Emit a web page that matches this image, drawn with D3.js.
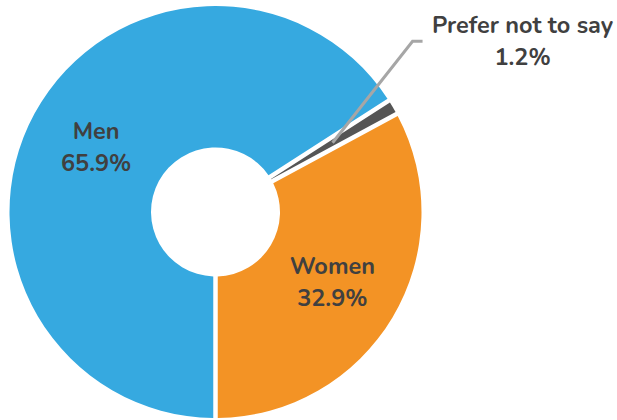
<!DOCTYPE html>
<html><head><meta charset="utf-8">
<script src="https://cdn.jsdelivr.net/npm/d3@7"></script>
<style>html,body{margin:0;padding:0;background:#fff}</style>
</head><body>
<svg id="chart" width="617" height="420"></svg>
<script>
const categories = ["Men", "Prefer not to say", "Women"];
const values = [65.9, 1.2, 32.9];
const labels = ["65.9%", "1.2%", "32.9%"];
const colors = ["#36A9E0", "#555555", "#F39325"];

const svg = d3.select("#chart");
const cx = 215.5, cy = 212, outerR = 206, innerR = 64.5;
const g = svg.append("g").attr("transform", `translate(${cx},${cy})`);

const pie = d3.pie().sort(null).value(d => d.v)
  .startAngle(Math.PI).endAngle(3 * Math.PI);
const data = categories.map((c, i) => ({c, v: values[i], l: labels[i], col: colors[i]}));
const arcs = pie(data);
const arc = d3.arc().innerRadius(innerR).outerRadius(outerR)
  .padAngle(0.045).padRadius(100);
const labelArc = d3.arc().innerRadius(136).outerRadius(136);

g.selectAll("path.slice").data(arcs).enter().append("path")
  .attr("class", "slice").attr("d", arc).attr("fill", d => d.data.col);

const font = "Nunito, Lato, 'Open Sans', sans-serif";
const fs = 23.5;
// inside labels
arcs.forEach((a, i) => {
  if (a.data.v < 5) return;
  const [x, y] = labelArc.centroid(a);
  const t = g.append("text").attr("text-anchor", "middle")
    .attr("font-family", font).attr("font-weight", "bold")
    .attr("font-size", fs).attr("fill", "#404040");
  t.append("tspan").attr("x", x).attr("y", y - 8).text(a.data.c);
  t.append("tspan").attr("x", x).attr("y", y + 24).text(a.data.l);
});

// outside label with leader line
const small = arcs[1];
const [sx, sy] = labelArc.centroid(small);
const ex = sx + 80, ey = sy - 101.5;
g.append("polyline")
  .attr("points", `${sx},${sy} ${ex},${ey} ${ex + 10},${ey}`)
  .attr("fill", "none").attr("stroke", "#A6A6A6").attr("stroke-width", 3);
const t2 = g.append("text").attr("text-anchor", "middle")
  .attr("font-family", font).attr("font-weight", "bold")
  .attr("font-size", fs).attr("fill", "#404040");
t2.append("tspan").attr("x", ex + 110).attr("y", ey - 8).text(small.data.c);
t2.append("tspan").attr("x", ex + 110).attr("y", ey + 23.5).text(small.data.l);
</script>
</body></html>
